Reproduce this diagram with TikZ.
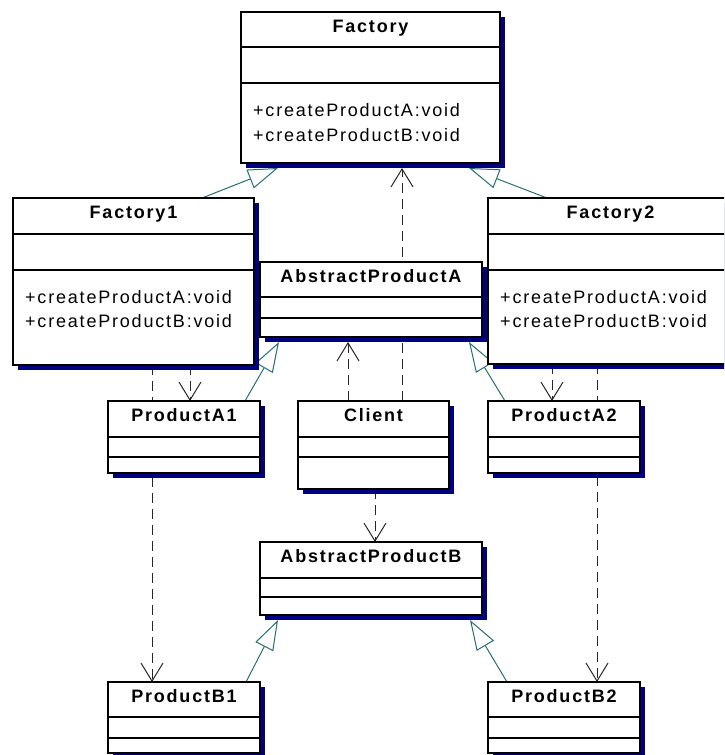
\documentclass[tikz,border=0pt]{standalone}
\usepackage{fontspec}
\setmainfont{Liberation Sans}
\newfontfamily\umlfont[LetterSpace=10]{Liberation Sans}
\usetikzlibrary{arrows.meta,shadows}
\pgfdeclarelayer{background}
\pgfsetlayers{background,main}
\definecolor{shadowblue}{RGB}{0,0,128}
\definecolor{genteal}{RGB}{40,110,110}

\begin{document}
\begin{tikzpicture}[
  x=1pt,y=-1pt,
  every node/.style={font=\umlfont\fontsize{18pt}{21pt}\selectfont},
  classbox/.style={draw,line width=1.2pt,fill=white,anchor=north west,
    inner sep=0pt,outer sep=0pt,
    drop shadow={shadow xshift=5pt,shadow yshift=-5pt,fill=shadowblue,opacity=1}},
  divider/.style={line width=1.2pt},
  title/.style={anchor=base,inner sep=0pt,
    font=\umlfont\bfseries\fontsize{18pt}{21pt}\selectfont},
  op/.style={anchor=base west,inner sep=0pt},
  depend/.style={black!85,line width=1pt,dash pattern=on 10pt off 6pt,
    -{Straight Barb[length=18pt,width=22pt]}},
  general/.style={genteal,line width=1pt,
    -{Triangle[open,fill=white,length=30pt,width=20pt]}}
]
  \useasboundingbox (0,0) rectangle (724,755);
  \clip (0,0) rectangle (724,755);

  % classes
  \node[classbox,minimum width=259pt,minimum height=151pt] (Factory) at (241,12) {};
  \node[classbox,minimum width=241pt,minimum height=167pt] (Factory1) at (13,198) {};
  \node[classbox,minimum width=245pt,minimum height=166pt] (Factory2) at (488,198) {};
  \node[classbox,minimum width=222pt,minimum height=75pt] (AbstractProductA) at (260,262) {};
  \node[classbox,minimum width=152pt,minimum height=72pt] (ProductA1) at (108,401) {};
  \node[classbox,minimum width=151pt,minimum height=88pt] (Client) at (298,401) {};
  \node[classbox,minimum width=152pt,minimum height=72pt] (ProductA2) at (488,401) {};
  \node[classbox,minimum width=222pt,minimum height=73pt] (AbstractProductB) at (260,542) {};
  \node[classbox,minimum width=152pt,minimum height=71pt] (ProductB1) at (108,682) {};
  \node[classbox,minimum width=152pt,minimum height=71pt] (ProductB2) at (488,682) {};

  % compartments and titles
  \foreach \n/\a/\b in {Factory/35/71,Factory1/36/72,Factory2/36/72,
      AbstractProductA/35/56,ProductA1/36/56,Client/36/56,ProductA2/36/56,
      AbstractProductB/36/55,ProductB1/35/56,ProductB2/35/56} {
    \draw[divider] ([yshift=-\a pt]\n.north west) -- ([yshift=-\a pt]\n.north east);
    \draw[divider] ([yshift=-\b pt]\n.north west) -- ([yshift=-\b pt]\n.north east);
    \node[title] (\n-title) at ([yshift=-20pt]\n.north) {\n};
  }

  % operations
  \node[op] (f-opa) at ([xshift=12pt,yshift=-104pt]Factory.north west) {+createProductA:void};
  \node[op] (f-opb) at ([xshift=12pt,yshift=-129pt]Factory.north west) {+createProductB:void};
  \node[op] (f1-opa) at ([xshift=12pt,yshift=-105pt]Factory1.north west) {+createProductA:void};
  \node[op] (f1-opb) at ([xshift=12pt,yshift=-129pt]Factory1.north west) {+createProductB:void};
  \node[op] (f2-opa) at ([xshift=12pt,yshift=-105pt]Factory2.north west) {+createProductA:void};
  \node[op] (f2-opb) at ([xshift=12pt,yshift=-129pt]Factory2.north west) {+createProductB:void};

  % relations
  \begin{pgfonlayer}{background}
    \draw[depend] ([xshift=28.5pt]Client.north) -- ([xshift=31.5pt,yshift=-5pt]Factory.south);
    \draw[depend] ([xshift=-25.5pt]Client.north) -- ([xshift=-23pt,yshift=-5pt]AbstractProductA.south);
    \draw[depend] ([xshift=1.5pt]Client.south) -- ([xshift=4pt]AbstractProductB.north);
    \draw[depend] ([xshift=56.5pt]Factory1.south) -- ([xshift=6pt]ProductA1.north);
    \draw[depend] ([xshift=18.5pt]Factory1.south) -- ([xshift=-32pt]ProductB1.north);
    \draw[depend] ([xshift=-58.5pt]Factory2.south) -- ([xshift=-12pt]ProductA2.north);
    \draw[depend] ([xshift=-13.5pt]Factory2.south) -- ([xshift=33pt]ProductB2.north);

    \draw[general] ([xshift=68.5pt]Factory1.north) -- ([xshift=-92.5pt,yshift=-5pt]Factory.south);
    \draw[general] ([xshift=-63.5pt]Factory2.north) -- ([xshift=98.5pt,yshift=-5pt]Factory.south);
    \draw[general] ([xshift=61pt]ProductA1.north) -- ([xshift=-92pt,yshift=-5pt]AbstractProductA.south);
    \draw[general] ([xshift=-59pt]ProductA2.north) -- ([xshift=98pt,yshift=-5pt]AbstractProductA.south);
    \draw[general] ([xshift=62pt]ProductB1.north) -- ([xshift=-93pt,yshift=-5pt]AbstractProductB.south);
    \draw[general] ([xshift=-57pt]ProductB2.north) -- ([xshift=99pt,yshift=-5pt]AbstractProductB.south);
  \end{pgfonlayer}
\end{tikzpicture}
\end{document}
